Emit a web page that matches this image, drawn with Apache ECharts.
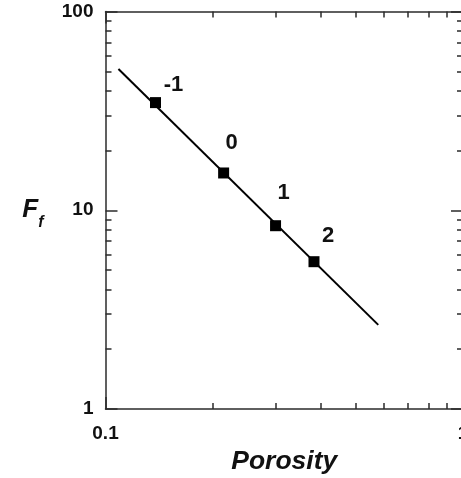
<!DOCTYPE html>
<html>
<head>
<meta charset="utf-8">
<script src="https://cdn.jsdelivr.net/npm/echarts@6/dist/echarts.min.js"></script>
<style>
  html, body { margin: 0; padding: 0; background: #fff; }
  #chart { width: 461px; height: 478px; }
</style>
</head>
<body>
<div id="chart"></div>
<script>
// Measured samples: porosity vs formation factor
const porosity = [0.138, 0.214, 0.299, 0.383];
const formationFactor = [34.8, 15.4, 8.36, 5.51];
const pointLabels = ['-1', '0', '1', '2'];

// Fitted power-law line endpoints
const fitPorosity = [0.1087, 0.5794];
const fitFactor = [51.4, 2.65];

// Axis ranges
const xRange = [0.1, 1];
const yRange = [1, 100];

// Label placement relative to each marker (px)
const labelOffsets = [[18, -18], [8, -30], [8, -33], [14, -26]];

const FONT = '"Liberation Sans", Arial, Helvetica, sans-serif';
const AXIS_COLOR = '#2b2b2b';
const TEXT_COLOR = '#111111';

const chart = echarts.init(document.getElementById('chart'), null, { renderer: 'canvas' });

function logAxis(base) {
  return Object.assign({
    type: 'log',
    logBase: 10,
    axisLine: { show: true, lineStyle: { color: AXIS_COLOR, width: 1.5 } },
    axisTick: { show: true, inside: true, length: 12, lineStyle: { color: AXIS_COLOR, width: 1.5 } },
    minorTick: { show: true, splitNumber: 9, length: 6, lineStyle: { color: AXIS_COLOR, width: 1.5 } },
    splitLine: { show: false },
    minorSplitLine: { show: false }
  }, base);
}

const tickLabel = {
  fontFamily: FONT, fontWeight: 'bold', fontSize: 19, color: TEXT_COLOR
};

const option = {
  animation: false,
  backgroundColor: '#ffffff',
  grid: {
    left: 105.5, right: -2, top: 11.5, bottom: 69,
    containLabel: false, outerBoundsMode: 'none'
  },
  xAxis: [
    logAxis({
      position: 'bottom', min: xRange[0], max: xRange[1],
      axisLabel: Object.assign({ margin: 15 }, tickLabel),
      name: 'Porosity', nameLocation: 'middle', nameGap: 38,
      nameTextStyle: { fontFamily: FONT, fontWeight: 'bold', fontStyle: 'italic', fontSize: 26.5, color: TEXT_COLOR }
    }),
    logAxis({
      position: 'top', min: xRange[0], max: xRange[1],
      axisLabel: { show: false }
    })
  ],
  yAxis: [
    logAxis({
      position: 'left', min: yRange[0], max: yRange[1],
      axisLabel: Object.assign({ margin: 12 }, tickLabel),
      name: '{F|F}{f|f}', nameLocation: 'middle', nameRotate: 0, nameGap: 62,
      nameTextStyle: {
        rich: {
          F: { fontFamily: FONT, fontWeight: 'bold', fontStyle: 'italic', fontSize: 26, color: TEXT_COLOR },
          f: { fontFamily: FONT, fontWeight: 'bold', fontStyle: 'italic', fontSize: 16, color: TEXT_COLOR, padding: [24, 0, 0, 0] }
        }
      }
    }),
    logAxis({
      position: 'right', min: yRange[0], max: yRange[1],
      axisLabel: { show: false }
    })
  ],
  series: [
    {
      type: 'line',
      data: fitPorosity.map((x, i) => [x, fitFactor[i]]),
      symbol: 'none',
      lineStyle: { color: '#000', width: 2 },
      z: 2,
      silent: true
    },
    {
      type: 'scatter',
      symbol: 'rect',
      symbolSize: 11,
      itemStyle: { color: '#000', opacity: 1 },
      z: 3,
      label: {
        show: true,
        position: 'inside',
        formatter: (p) => pointLabels[p.dataIndex],
        fontFamily: FONT,
        fontWeight: 'bold',
        fontSize: 22,
        color: TEXT_COLOR,
        opacity: 1,
        textBorderWidth: 0
      },
      data: porosity.map((x, i) => ({
        value: [x, formationFactor[i]],
        label: { offset: labelOffsets[i] }
      }))
    }
  ]
};

chart.setOption(option);
</script>
</body>
</html>
